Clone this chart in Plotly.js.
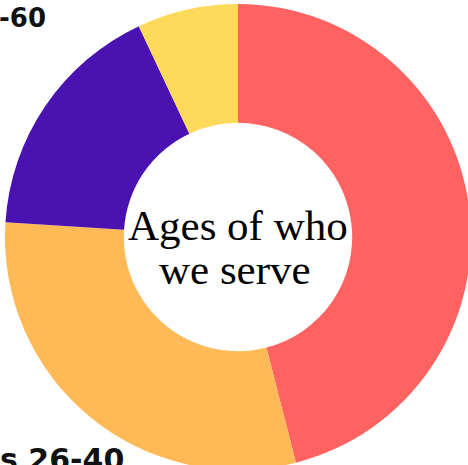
<!DOCTYPE html>
<html>
<head>
<meta charset="utf-8">
<script src="https://cdn.plot.ly/plotly-3.0.1.min.js"></script>
<style>
html,body{margin:0;padding:0;overflow:hidden;background:#fff;width:468px;height:465px;}
#chart{position:absolute;left:0;top:0;width:476px;height:480px;}
</style>
</head>
<body>
<div id="chart"></div>
<script>
const categories = ["Ages 0-25", "Ages 26-40", "Ages 41-60", "Ages 60+"];
const shares = [46, 30, 17, 7];
const sliceColors = ["#ff6361", "#ffb957", "#4a13b1", "#ffd95a"];
const centerLines = ["Ages of who", "we serve"];
const outsideLabels = ["Ages 41-60", "Ages 26-40"];

const W = 476, H = 480;
const py = v => 1 - v / H;
const serif = {family: "Liberation Serif, Times New Roman, serif", size: 43, color: "#000"};
const labelFont = s => ({family: "DejaVu Sans, sans-serif", size: s, color: "#111", weight: 700});

const data = [{
  type: "pie",
  labels: categories,
  values: shares,
  hole: 0.49,
  sort: false,
  direction: "clockwise",
  rotation: 0,
  textinfo: "none",
  hoverinfo: "none",
  marker: {colors: sliceColors, line: {width: 0}},
  domain: {x: [5 / W, 471 / W], y: [py(470), py(4)]},
  showlegend: false
}];

const layout = {
  width: W, height: H,
  margin: {l: 0, r: 0, t: 0, b: 0, pad: 0},
  paper_bgcolor: "#ffffff",
  showlegend: false,
  annotations: [
    {text: centerLines[0], x: 238 / W, y: py(225), xref: "paper", yref: "paper",
     xanchor: "center", yanchor: "middle", showarrow: false, font: serif},
    {text: centerLines[1], x: 235 / W, y: py(269), xref: "paper", yref: "paper",
     xanchor: "center", yanchor: "middle", showarrow: false, font: serif},
    {text: outsideLabels[0], x: 48 / W, y: py(18), xref: "paper", yref: "paper",
     xanchor: "right", yanchor: "middle", showarrow: false, font: labelFont(26)},
    {text: outsideLabels[1], x: 126 / W, y: py(459), xref: "paper", yref: "paper",
     xanchor: "right", yanchor: "middle", showarrow: false, font: labelFont(30)}
  ]
};

Plotly.newPlot("chart", data, layout, {displayModeBar: false, staticPlot: true});
</script>
</body>
</html>
